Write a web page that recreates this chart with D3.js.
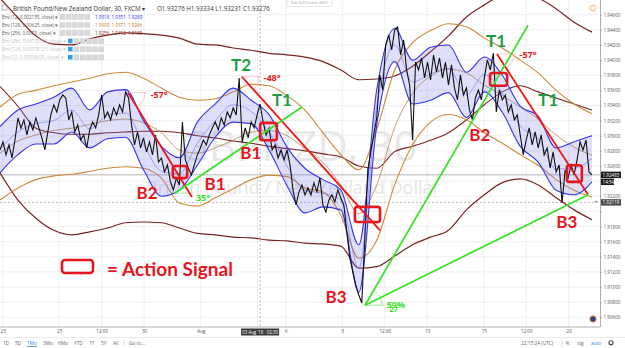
<!DOCTYPE html>
<html>
<head>
<meta charset="utf-8">
<script src="https://cdn.jsdelivr.net/npm/d3@7"></script>
<style>
  body { margin: 0; background: #fff; }
  svg { display: block; font-family: "Open Sans", sans-serif; }
</style>
</head>
<body>
<svg id="chart"></svg>
<script>
const closes = [
  1.92812, 1.92918, 1.92746, 1.92878, 1.92706, 1.92944, 1.93235, 1.93103, 1.93209, 1.93010,
  1.93182, 1.93076, 1.93235, 1.93103, 1.92971, 1.92812, 1.93050, 1.93275, 1.93407, 1.93314,
  1.93473, 1.93539, 1.93499, 1.93209, 1.93314, 1.93050, 1.93143, 1.92944, 1.93010, 1.92838,
  1.93076, 1.93182, 1.93103, 1.93275, 1.93539, 1.93235, 1.93314, 1.93209, 1.93367, 1.93275,
  1.93407, 1.93314, 1.93579, 1.93499, 1.93143, 1.92878, 1.93050, 1.92838, 1.92971, 1.92786,
  1.92918, 1.92746, 1.93010, 1.92653, 1.92706, 1.92521, 1.92614, 1.92389, 1.92283, 1.92442,
  1.92349, 1.93182, 1.92680, 1.92574, 1.92482, 1.92614, 1.92746, 1.92838, 1.92944, 1.92878,
  1.93010, 1.93103, 1.93182, 1.93076, 1.93235, 1.93143, 1.93314, 1.93235, 1.93367, 1.93275,
  1.93764, 1.92918, 1.93103, 1.92971, 1.93182, 1.93103, 1.93275, 1.93420, 1.93182, 1.93010,
  1.93103, 1.92812, 1.92878, 1.92706, 1.92812, 1.92680, 1.92812, 1.92614, 1.92283, 1.92085,
  1.92257, 1.92349, 1.92217, 1.92310, 1.92217, 1.92376, 1.92257, 1.92442, 1.92085, 1.91992,
  1.92151, 1.92217, 1.92125, 1.92283, 1.92177, 1.92085, 1.91728, 1.91384, 1.91199, 1.91027,
  1.90895, 1.90789, 1.91622, 1.92548, 1.92786, 1.93010, 1.93235, 1.93804, 1.93605, 1.94200,
  1.94332, 1.94134, 1.94398, 1.94438, 1.94068, 1.94266, 1.93870, 1.93671, 1.92944, 1.93975,
  1.93870, 1.94028, 1.93764, 1.93975, 1.93737, 1.94068, 1.93843, 1.94028, 1.93764, 1.93975,
  1.93671, 1.93936, 1.93632, 1.93473, 1.93804, 1.93539, 1.93632, 1.93341, 1.93209, 1.93499,
  1.93605, 1.93473, 1.93764, 1.94002, 1.93870, 1.94094, 1.93314, 1.93605, 1.93473, 1.93539,
  1.93314, 1.93407, 1.93209, 1.93275, 1.93010, 1.92746, 1.92944, 1.93103, 1.92878, 1.93050,
  1.92838, 1.93010, 1.92746, 1.92838, 1.92574, 1.92786, 1.92521, 1.92614, 1.92111, 1.92548,
  1.92442, 1.92614, 1.92482, 1.92680, 1.92918, 1.92812, 1.92944, 1.92521, 1.92483
];

// envelope bands, one value every BAND_STEP samples of closes
const BAND_STEP = 6;
const env12Upper = [1.9312, 1.9334, 1.9342, 1.9351, 1.9363, 1.9334, 1.9358, 1.9361, 1.9320, 1.9286, 1.9271, 1.9318, 1.9342, 1.9363, 1.9347, 1.9328, 1.9285,
  1.9257, 1.9242, 1.9228, 1.9156, 1.9361, 1.9442, 1.9400, 1.9417, 1.9420, 1.9384, 1.9404, 1.9380, 1.9339, 1.9326, 1.9284, 1.9292, 1.9300];
const env12Basis = [1.9282, 1.9305, 1.9316, 1.9320, 1.9334, 1.9309, 1.9327, 1.9330, 1.9288, 1.9253, 1.9250, 1.9290, 1.9320, 1.9341, 1.9332, 1.9305, 1.9260,
  1.9228, 1.9224, 1.9215, 1.9125, 1.9338, 1.9420, 1.9371, 1.9382, 1.9389, 1.9354, 1.9381, 1.9356, 1.9313, 1.9296, 1.9256, 1.9257, 1.9270];
const env12Lower = [1.9251, 1.9275, 1.9289, 1.9289, 1.9305, 1.9284, 1.9296, 1.9298, 1.9255, 1.9220, 1.9228, 1.9261, 1.9298, 1.9318, 1.9316, 1.9281, 1.9234,
  1.9198, 1.9206, 1.9202, 1.9093, 1.9314, 1.9398, 1.9342, 1.9347, 1.9357, 1.9324, 1.9358, 1.9331, 1.9286, 1.9265, 1.9228, 1.9222, 1.9239];

const env128Upper = [1.9338, 1.9355, 1.9360, 1.9366, 1.9371, 1.9376, 1.9382, 1.9384, 1.9376, 1.9363, 1.9351, 1.9347, 1.9349, 1.9358, 1.9368, 1.9366, 1.9353,
  1.9334, 1.9304, 1.9275, 1.9255, 1.9308, 1.9387, 1.9423, 1.9439, 1.9448, 1.9444, 1.9429, 1.9416, 1.9400, 1.9383, 1.9360, 1.9342, 1.9329];
const env128Basis = [1.9277, 1.9293, 1.9301, 1.9307, 1.9310, 1.9315, 1.9320, 1.9322, 1.9317, 1.9304, 1.9281, 1.9277, 1.9284, 1.9294, 1.9305, 1.9307, 1.9300,
  1.9283, 1.9265, 1.9235, 1.9197, 1.9235, 1.9311, 1.9356, 1.9379, 1.9388, 1.9383, 1.9367, 1.9353, 1.9338, 1.9322, 1.9301, 1.9285, 1.9274];
const env128Lower = [1.9215, 1.9231, 1.9242, 1.9247, 1.9249, 1.9253, 1.9257, 1.9259, 1.9257, 1.9244, 1.9211, 1.9207, 1.9218, 1.9230, 1.9242, 1.9248, 1.9246,
  1.9231, 1.9226, 1.9195, 1.9138, 1.9162, 1.9235, 1.9288, 1.9318, 1.9328, 1.9321, 1.9304, 1.9290, 1.9275, 1.9261, 1.9242, 1.9228, 1.9219];

const env256Upper = [1.9482, 1.9456, 1.9432, 1.9421, 1.9420, 1.9428, 1.9433, 1.9436, 1.9435, 1.9433, 1.9429, 1.9421, 1.9420, 1.9416, 1.9413, 1.9409, 1.9407,
  1.9404, 1.9398, 1.9387, 1.9374, 1.9375, 1.9379, 1.9392, 1.9411, 1.9432, 1.9457, 1.9473, 1.9486, 1.9490, 1.9482, 1.9468, 1.9450, 1.9437];
const env256Basis = [1.9365, 1.9339, 1.9310, 1.9304, 1.9302, 1.9302, 1.9304, 1.9305, 1.9306, 1.9306, 1.9304, 1.9300, 1.9297, 1.9293, 1.9290, 1.9286, 1.9283,
  1.9280, 1.9276, 1.9272, 1.9260, 1.9257, 1.9279, 1.9286, 1.9294, 1.9304, 1.9321, 1.9341, 1.9358, 1.9366, 1.9358, 1.9350, 1.9342, 1.9334];
const env256Lower = [1.9251, 1.9215, 1.9191, 1.9175, 1.9169, 1.9173, 1.9178, 1.9185, 1.9186, 1.9185, 1.9178, 1.9171, 1.9169, 1.9166, 1.9165, 1.9162, 1.9161,
  1.9158, 1.9157, 1.9154, 1.9125, 1.9127, 1.9141, 1.9156, 1.9166, 1.9175, 1.9202, 1.9222, 1.9238, 1.9243, 1.9235, 1.9218, 1.9202, 1.9189];

const priceTicks = [1.906, 1.908, 1.910, 1.912, 1.914, 1.916, 1.918, 1.920, 1.922, 1.924, 1.926,
  1.928, 1.930, 1.932, 1.934, 1.936, 1.938, 1.940, 1.942, 1.944, 1.946];
// the tick under the crosshair tag (Aug 3) is hidden by the tag, so its label is empty
const timeTickBars = [0.9, 19.8, 34.0, 48.2, 67.2, 86.1, 95.6, 114.5, 128.7, 142.9, 161.8, 176.0, 190.2];
const timeTickLabels = ["23", "25", "12:00", "30", "Aug", "", "6", "8", "12:00", "13", "15", "12:00", "20"];

const lastPrice = 1.92483;
const crossPrice = 1.92119;
const crossBar = 87;

// drawings: [bar0, price0, bar1, price1]
const redTrendLines = [[42.8, 1.9357, 64.2, 1.9219], [80.9, 1.9378, 127.1, 1.9175], [166.2, 1.9408, 196.7, 1.9222]];
const greenTrendLines = [[58.5, 1.9224, 101.0, 1.9338], [122.1, 1.9076, 176.6, 1.9446], [122.1, 1.9076, 196.7, 1.9222]];
const signalBoxes = [[57.8, 1.9260, 62.6, 1.9244], [87.0, 1.9317, 92.6, 1.9294], [118.7, 1.9206, 127.1, 1.9186],
  [163.9, 1.9383, 169.6, 1.9366], [189.6, 1.9261, 194.6, 1.9239]];
const pointLabels = [["B2", 49.2, 1.9224], ["B1", 71.9, 1.9237], ["B1", 83.9, 1.9277], ["T2", 80.6, 1.9394],
  ["T1", 94.3, 1.9347], ["B3", 112.4, 1.9087], ["T1", 165.9, 1.9425], ["B2", 160.5, 1.9301],
  ["T1", 183.3, 1.9347], ["B3", 189.6, 1.9186]];
const angleLabels = [["-57°", 53.2, 1.9354], ["-48°", 91.0, 1.9376], ["35°", 67.9, 1.9218],
  ["-57°", 176.6, 1.9407], ["59%", 132.4, 1.9077], ["27", 131.6, 1.9071]];

const legendRows = [
  { name: "Env (12, 0.002135, close)", vals: ["1.9318", "1.9351", "1.9289"], color: "#3030e0" },
  { name: "Env (128, 0.00625, close)", vals: ["1.9309", "1.9371", "1.9246"], color: "#c67a20" },
  { name: "Env (256, 0.0073, close)", vals: ["1.9256", "1.9412", "1.9135"], color: "#8a1c1c" },
  { name: "Env (256, 0.00739625, close)", vals: null },
  { name: "Env (128, 0.00378125, close)", vals: null },
  { name: "Env (12, 0.00398625, close)", vals: null }
];

// ---- layout ----
const W = 625, H = 348;
const plotW = 600, plotH = 327;
const RED = "#e5161e", GREEN_TXT = "#1f9d45", GREEN_LN = "#3be22c";

const svg = d3.select("#chart").attr("width", W).attr("height", H);

const x = d3.scaleLinear().domain([0, closes.length - 1]).range([0, 592]);
const y = d3.scaleLinear().domain([1.906, 1.946]).range([317.3, 14.7]);
const bx = (d, i) => x(i * BAND_STEP);

svg.append("defs").append("clipPath").attr("id", "plot")
  .append("rect").attr("width", plotW).attr("height", plotH);

const plot = svg.append("g").attr("clip-path", "url(#plot)");

// grid
plot.append("g").selectAll("line").data(priceTicks).join("line")
  .attr("x1", 0).attr("x2", plotW).attr("y1", d => y(d)).attr("y2", d => y(d))
  .attr("stroke", "#efefef");
plot.append("g").selectAll("line").data(timeTickBars).join("line")
  .attr("x1", d => x(d)).attr("x2", d => x(d)).attr("y1", 0).attr("y2", plotH)
  .attr("stroke", "#efefef");

// watermark
plot.append("text").attr("x", 298).attr("y", 161).attr("text-anchor", "middle")
  .attr("font-size", 42).attr("fill", "#e8e8e8").text("GBPNZD, 30");
plot.append("text").attr("x", 293).attr("y", 194).attr("text-anchor", "middle")
  .attr("font-size", 18).attr("fill", "#e6e6e6").text("British Pound / New Zealand Dollar");

// price reference lines
plot.append("line").attr("x1", 0).attr("x2", plotW).attr("y1", y(lastPrice)).attr("y2", y(lastPrice))
  .attr("stroke", "#b5b5b5").attr("stroke-width", 1);
plot.append("line").attr("x1", 0).attr("x2", plotW).attr("y1", y(crossPrice)).attr("y2", y(crossPrice))
  .attr("stroke", "#aaa").attr("stroke-dasharray", "2,2").attr("stroke-width", 0.8);
plot.append("line").attr("x1", x(crossBar)).attr("x2", x(crossBar)).attr("y1", 0).attr("y2", plotH)
  .attr("stroke", "#aaa").attr("stroke-dasharray", "2,2").attr("stroke-width", 0.8);

// bands
const bandLine = d3.line().x(bx).y(d => y(d)).curve(d3.curveMonotoneX);
const bandArea = d3.area().x(bx).y0(d => y(d[0])).y1(d => y(d[1])).curve(d3.curveMonotoneX);

function drawLine(vals, color, w, op) {
  plot.append("path").datum(vals).attr("d", bandLine)
    .attr("fill", "none").attr("stroke", color).attr("stroke-width", w).attr("opacity", op || 1);
}

drawLine(env256Upper, "#7b2222", 1.2);
drawLine(env256Basis, "#7b2222", 1.1);
drawLine(env256Lower, "#7b2222", 1.2);
drawLine(env128Upper, "#cd8a3c", 1.1);
drawLine(env128Basis, "#b88552", 0.8);
drawLine(env128Lower, "#cd8a3c", 1.1);

plot.append("path").datum(env12Lower.map((v, i) => [v, env12Upper[i]]))
  .attr("d", bandArea).attr("fill", "#6e6ee6").attr("opacity", 0.22);
drawLine(env12Basis, "#6a6af0", 0.7, 0.8);
drawLine(env12Upper, "#3434ef", 1.1);
drawLine(env12Lower, "#3434ef", 1.1);

// price
plot.append("path").datum(closes)
  .attr("d", d3.line().x((d, i) => x(i)).y(d => y(d)))
  .attr("fill", "none").attr("stroke", "#111").attr("stroke-width", 1.1);

// angle arcs at the origin of each trend line
function angleArc(l, color) {
  const x0 = x(l[0]), y0 = y(l[1]);
  const a = Math.atan2(y(l[3]) - y0, x(l[2]) - x0);
  const r = 17;
  const p = d3.path();
  p.moveTo(x0 + r, y0);
  p.arc(x0, y0, r, 0, a, a < 0);
  plot.append("path").attr("d", p.toString()).attr("fill", "none")
    .attr("stroke", color).attr("stroke-width", 0.8);
  plot.append("line").attr("x1", x0).attr("x2", x0 + r + 2).attr("y1", y0).attr("y2", y0)
    .attr("stroke", color).attr("stroke-width", 0.7);
}
redTrendLines.forEach(l => angleArc(l, "#f6b8b8"));
greenTrendLines.forEach(l => angleArc(l, "#a8eea0"));

// trend lines
plot.append("g").selectAll("line").data(redTrendLines).join("line")
  .attr("x1", d => x(d[0])).attr("y1", d => y(d[1])).attr("x2", d => x(d[2])).attr("y2", d => y(d[3]))
  .attr("stroke", "#f01515").attr("stroke-width", 1.8);
plot.append("g").selectAll("line").data(greenTrendLines).join("line")
  .attr("x1", d => x(d[0])).attr("y1", d => y(d[1])).attr("x2", d => x(d[2])).attr("y2", d => y(d[3]))
  .attr("stroke", GREEN_LN).attr("stroke-width", 1.8);

// action signal boxes
plot.append("g").selectAll("rect").data(signalBoxes).join("rect")
  .attr("x", d => x(d[0])).attr("y", d => y(d[1]))
  .attr("width", d => x(d[2]) - x(d[0])).attr("height", d => y(d[3]) - y(d[1]))
  .attr("rx", 2.5).attr("fill", "none").attr("stroke", RED).attr("stroke-width", 2.6);

// labels
plot.append("g").selectAll("text").data(pointLabels).join("text")
  .attr("x", d => x(d[1])).attr("y", d => y(d[2])).attr("dy", "0.36em")
  .attr("text-anchor", "middle").attr("font-family", "Lato, sans-serif").attr("font-weight", 700)
  .attr("font-size", 17).attr("fill", d => d[0][0] === "B" ? RED : GREEN_TXT).text(d => d[0]);
plot.append("g").selectAll("text").data(angleLabels).join("text")
  .attr("x", d => x(d[1])).attr("y", d => y(d[2])).attr("dy", "0.36em")
  .attr("text-anchor", "middle").attr("font-weight", 700)
  .attr("font-size", d => d[0] === "27" ? 7.5 : 9)
  .attr("fill", d => d[0][0] === "-" ? RED : GREEN_LN).text(d => d[0]);

// action signal legend
svg.append("rect").attr("x", 62).attr("y", 260).attr("width", 31).attr("height", 13).attr("rx", 3)
  .attr("fill", "none").attr("stroke", RED).attr("stroke-width", 2.6);
svg.append("text").attr("x", 107).attr("y", 276).attr("font-family", "Lato, sans-serif")
  .attr("font-weight", 700).attr("font-size", 19).attr("fill", RED).text("= Action Signal");

// header
const head = svg.append("g").attr("font-size", 6.2).attr("fill", "#333");
head.append("rect").attr("x", 2).attr("y", 5).attr("width", 5).attr("height", 5)
  .attr("fill", "none").attr("stroke", "#888").attr("stroke-width", 0.6);
head.append("text").attr("x", 13).attr("y", 11).text("British Pound/New Zealand Dollar, 30, FXCM  \u25BE");
head.append("text").attr("x", 157).attr("y", 11).text("O1.93276  H1.93334  L1.93231  C1.93276");

const leg = svg.append("g").attr("font-size", 4.6);
legendRows.forEach((r, i) => {
  const yy = 18.6 + i * 8.1;
  const faded = !r.vals;
  leg.append("text").attr("x", 2).attr("y", yy).attr("fill", faded ? "#c4c4c4" : "#555")
    .text(r.name + " \u25BE");
  let bx0 = faded ? 68 : 60;
  if (faded) {
    leg.append("rect").attr("x", bx0).attr("y", yy - 4.2).attr("width", 4.6).attr("height", 4.6)
      .attr("fill", "#2ea0e0");
    bx0 += 6;
  }
  for (let k = 0; k < 5; k++) {
    leg.append("rect").attr("x", bx0 + k * 6.2).attr("y", yy - 4.2).attr("width", 5).attr("height", 5)
      .attr("fill", "#d9d9d9").attr("stroke", "#c8c8c8").attr("stroke-width", 0.4);
  }
  if (r.vals) {
    r.vals.forEach((v, k) => {
      leg.append("text").attr("x", bx0 + 35 + k * 16.5).attr("y", yy).attr("fill", r.color).text(v);
    });
  }
});

// exit full screen hint
svg.append("rect").attr("x", 287).attr("y", -1).attr("width", 45).attr("height", 7.5).attr("rx", 1.5)
  .attr("fill", "#fff").attr("stroke", "#d4d4d4").attr("stroke-width", 0.6);
svg.append("text").attr("x", 309.5).attr("y", 4.2).attr("text-anchor", "middle")
  .attr("font-size", 3.8).attr("fill", "#999").text("Exit Full Screen (ESC)");

// top-right clock icon
svg.append("circle").attr("cx", 593).attr("cy", 8).attr("r", 2.8)
  .attr("fill", "none").attr("stroke", "#f0a050").attr("stroke-width", 0.8);

// price axis; labels sitting under a price tag are hidden like in the terminal
const tagPrices = [lastPrice, crossPrice];
const yAxis = d3.axisRight(y).tickValues(priceTicks).tickFormat(d3.format(".5f"))
  .tickSize(2).tickPadding(1.5);
svg.append("g").attr("transform", `translate(${plotW},0)`).call(yAxis)
  .call(g => g.select(".domain").remove())
  .call(g => g.selectAll(".tick line").attr("stroke", "#bbb"))
  .call(g => g.selectAll(".tick text").attr("font-size", 4.6).attr("fill", "#555")
    .attr("font-family", "'Open Sans', sans-serif")
    .attr("display", d => tagPrices.some(p => y(d) - y(p) > -5 && y(d) - y(p) < 12) ? "none" : null));
svg.append("line").attr("x1", plotW + 0.5).attr("x2", plotW + 0.5).attr("y1", 0).attr("y2", plotH)
  .attr("stroke", "#999").attr("stroke-width", 0.8);

// price tags on the axis
function priceTag(p, label, fill, dyOff) {
  const yy = y(p) + (dyOff || 0);
  svg.append("rect").attr("x", plotW + 1).attr("y", yy - 3.2).attr("width", label.length > 5 ? 20 : 13)
    .attr("height", 6.4).attr("fill", fill);
  svg.append("text").attr("x", plotW + 2.5).attr("y", yy + 1.7).attr("font-size", 4.6)
    .attr("fill", "#fff").text(label);
}
priceTag(lastPrice, "1.92483", "#1b1b1b", 0);
priceTag(lastPrice, "14:54", "#1b1b1b", 7);
priceTag(crossPrice, "1.92119", "#4a4a4a", 0);
svg.append("text").attr("x", 596).attr("y", y(crossPrice) + 2).attr("text-anchor", "middle")
  .attr("font-size", 6).attr("fill", "#666").text("+");

// flag icon
svg.append("circle").attr("cx", 593).attr("cy", 319).attr("r", 3.2)
  .attr("fill", "#2a3f8f").attr("stroke", "#f0a030").attr("stroke-width", 1);

// time axis
const xAxis = d3.axisBottom(x).tickValues(timeTickBars).tickFormat((d, i) => timeTickLabels[i])
  .tickSize(0).tickPadding(3);
svg.append("g").attr("transform", `translate(0,${plotH})`).call(xAxis)
  .call(g => g.select(".domain").remove())
  .call(g => g.selectAll(".tick text").attr("font-size", 4.6).attr("fill", "#555")
    .attr("font-family", "'Open Sans', sans-serif"));
svg.append("line").attr("x1", 0).attr("x2", plotW).attr("y1", plotH).attr("y2", plotH)
  .attr("stroke", "#999").attr("stroke-width", 0.8);

// crosshair time tag
svg.append("rect").attr("x", x(crossBar) - 19).attr("y", 328.5).attr("width", 38).attr("height", 7)
  .attr("fill", "#3a3a3a");
svg.append("text").attr("x", x(crossBar)).attr("y", 333.6).attr("text-anchor", "middle")
  .attr("font-size", 4.4).attr("fill", "#fff").text("03 Aug '18 \u00B7 02:30");

// bottom toolbar
svg.append("line").attr("x1", 0).attr("x2", W).attr("y1", 337.5).attr("y2", 337.5)
  .attr("stroke", "#e4e4e4").attr("stroke-width", 0.8);
const tb = svg.append("g").attr("font-size", 4.8).attr("fill", "#666");
const ranges = [["1D", 3], ["5D", 15], ["1Mo", 27], ["3Mo", 43], ["6Mo", 58], ["YTD", 74], ["1Y", 89], ["5Y", 101], ["All", 113]];
ranges.forEach(r => {
  tb.append("text").attr("x", r[1]).attr("y", 344.5).attr("fill", r[0] === "1Mo" ? "#2f7fe0" : "#666").text(r[0]);
});
tb.append("line").attr("x1", 27).attr("x2", 37).attr("y1", 346.5).attr("y2", 346.5)
  .attr("stroke", "#2f7fe0").attr("stroke-width", 0.8);
tb.append("line").attr("x1", 124).attr("x2", 124).attr("y1", 340).attr("y2", 346).attr("stroke", "#ddd");
tb.append("text").attr("x", 129).attr("y", 344.5).text("Go to...");
tb.append("text").attr("x", 521).attr("y", 344.5).text("22:15:24 (UTC)");
tb.append("line").attr("x1", 562).attr("x2", 562).attr("y1", 340).attr("y2", 346).attr("stroke", "#ddd");
tb.append("text").attr("x", 565.5).attr("y", 344.5).text("%");
tb.append("text").attr("x", 577).attr("y", 344.5).text("log");
tb.append("text").attr("x", 591).attr("y", 344.5).attr("fill", "#2f7fe0").text("auto");
tb.append("circle").attr("cx", 611).attr("cy", 342.8).attr("r", 2)
  .attr("fill", "none").attr("stroke", "#444").attr("stroke-width", 1.1);
</script>
</body>
</html>
